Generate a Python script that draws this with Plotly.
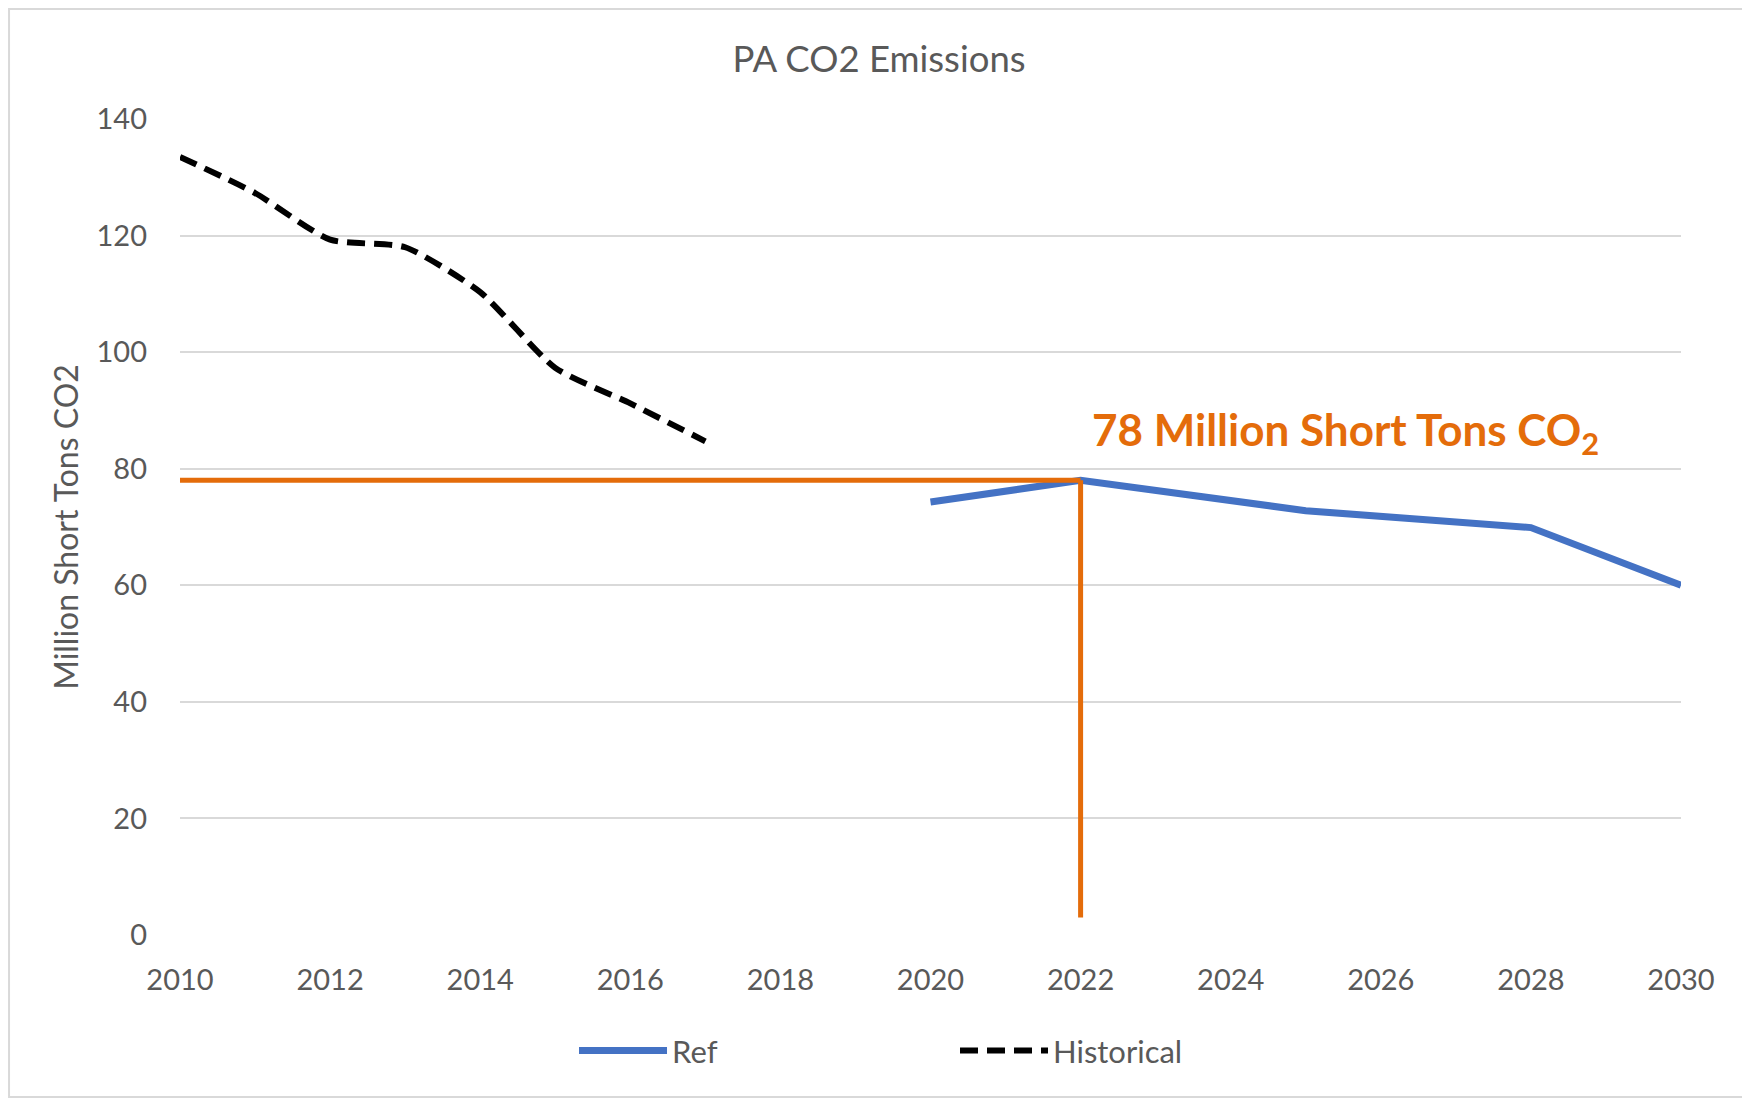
import plotly.graph_objects as go

# ---- data ----
hist_years = [2010, 2011, 2012, 2013, 2014, 2015, 2016, 2017]
hist_values = [133.5, 127.3, 119.3, 118.0, 110.3, 97.3, 91.2, 84.7]

ref_years = [2020, 2022, 2025, 2028, 2030]
ref_values = [74.3, 78.0, 72.8, 69.9, 60.0]

target_year = 2022
target_value = 78
target_bottom = 3
target_label = "78 Million Short Tons CO<sub>2</sub>"

x_ticks = list(range(2010, 2031, 2))
y_ticks = list(range(0, 141, 20))

FONT = "Lato"
GRAY = "#595959"
ORANGE = "#E46C0A"
BLUE = "#4472C4"

fig = go.Figure()

fig.add_trace(go.Scatter(
    x=ref_years, y=ref_values, name="Ref", mode="lines",
    line=dict(color=BLUE, width=7),
))
fig.add_trace(go.Scatter(
    x=hist_years, y=hist_values, name="Historical", mode="lines",
    line=dict(color="black", width=6, dash="18px,9px", shape="spline", smoothing=0.6),
))

# target lines
fig.add_shape(type="line", xref="x", yref="y", x0=hist_years[0] - 0.06, x1=target_year,
              y0=target_value, y1=target_value, line=dict(color=ORANGE, width=5), layer="above")
fig.add_shape(type="line", xref="x", yref="y", x0=target_year, x1=target_year,
              y0=target_bottom, y1=target_value, line=dict(color=ORANGE, width=5), layer="above")

fig.add_annotation(x=target_year + 0.12, y=86.2, xref="x", yref="y", text=target_label,
                   showarrow=False, xanchor="left", yanchor="middle",
                   font=dict(family=FONT, size=44, color=ORANGE, weight="bold"))

# outer chart border
fig.add_shape(type="rect", xref="paper", yref="paper", x0=-0.1139, x1=1.0452, y0=-0.1985, y1=1.1348,
              line=dict(color="#D9D9D9", width=2))

fig.update_layout(
    width=1742, height=1093,
    margin=dict(l=172, r=69, t=111, b=166),
    paper_bgcolor="white", plot_bgcolor="white",
    font=dict(family=FONT, color=GRAY, size=28),
    title=dict(text="PA CO2 Emissions", x=0.5, xanchor="center", y=0.953, yanchor="middle",
               font=dict(family=FONT, size=36.5, color=GRAY)),
    showlegend=True,
    legend=dict(orientation="h", x=0.2625, xanchor="left", y=-0.142, yanchor="middle",
                entrywidth=278, entrywidthmode="pixels",
                font=dict(family=FONT, size=31, color=GRAY), itemwidth=88),
)

fig.update_xaxes(range=[2010, 2030], tickvals=x_ticks, ticktext=[str(t) for t in x_ticks],
                 showgrid=False, zeroline=False, showline=False, ticks="",
                 tickfont=dict(family=FONT, size=29, color=GRAY), ticklabelstandoff=25)
fig.update_yaxes(range=[0, 140], tickvals=y_ticks, showgrid=True, gridcolor="#D9D9D9", gridwidth=2,
                 zeroline=False, showline=False, ticks="",
                 tickfont=dict(family=FONT, size=29, color=GRAY), ticklabelstandoff=32,
                 title=dict(text="Million Short Tons CO2", font=dict(family=FONT, size=32, color=GRAY),
                            standoff=8))

fig.write_html("out.html")
